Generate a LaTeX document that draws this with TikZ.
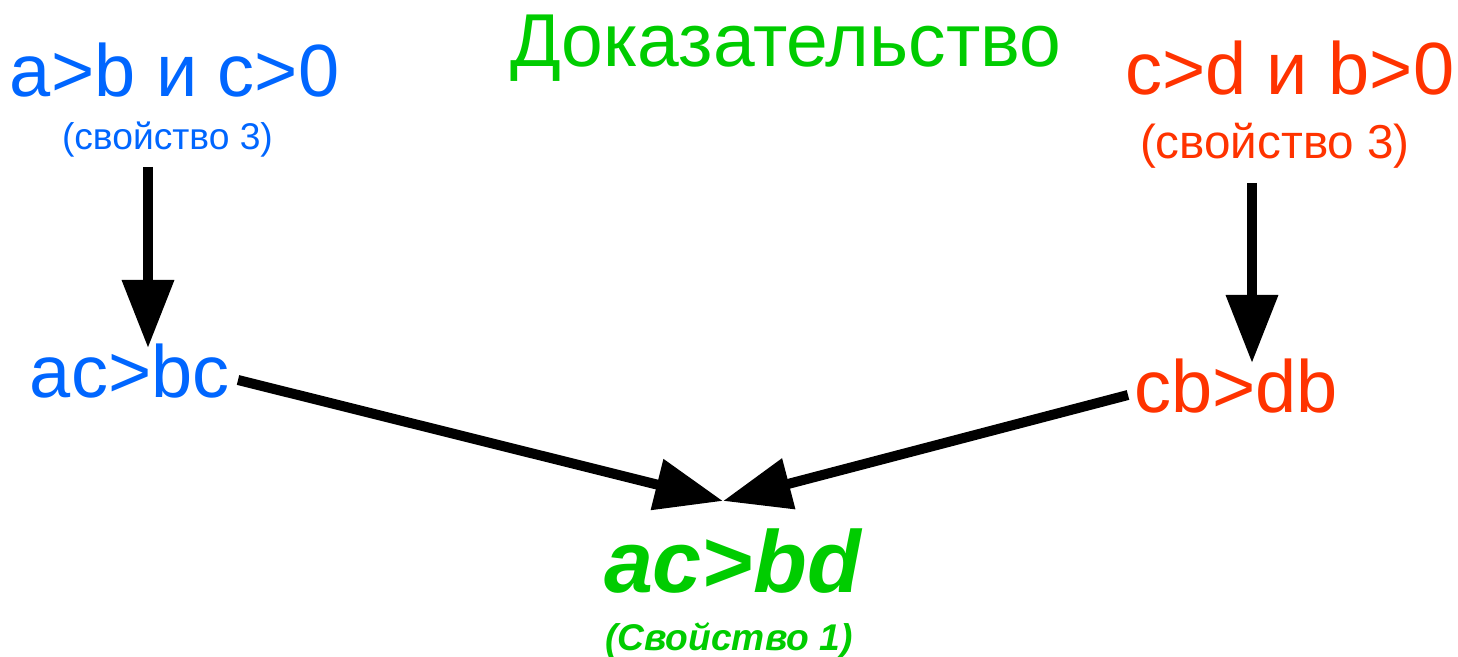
\documentclass[tikz,border=0pt]{standalone}
\usepackage{fontspec}
\setmainfont{Liberation Sans}
\usetikzlibrary{arrows.meta,calc}
\definecolor{cblue}{HTML}{0066FF}
\definecolor{cred}{HTML}{FF3300}
\definecolor{cgreen}{HTML}{00CC00}
\tikzset{
  txt/.style={inner sep=0pt, outer sep=0pt, anchor=base west},
  big/.style={txt, font=\fontsize{37}{40}\selectfont},
  arr/.style={line width=5pt, -{Triangle[length=34pt,width=25pt]}},
}
\begin{document}
\begin{tikzpicture}[x=0.5pt,y=-0.5pt]
\useasboundingbox (0,0) rectangle (1458,657);
\node[txt, text=cgreen, font=\fontsize{37.5}{40}\selectfont] (title) at (510,67) {Доказательство};
\node[big, text=cblue] (tl) at (10,97) {a>b и c>0};
\node[txt, text=cblue, font=\fontsize{18.6}{20}\selectfont] (lp) at (62,150) {(свойство 3)};
\node[big, text=cred] (tr) at (1125,95) {c>d и b>0};
\node[txt, text=cred, font=\fontsize{23.8}{25}\selectfont] (rp) at (1140,159) {(свойство 3)};
\node[big, text=cblue] (acbc) at (30,398) {ac>bc};
\node[big, text=cred] (cbdb) at (1134,413) {cb>db};
\node[txt, text=cgreen, font=\fontsize{44}{48}\selectfont\bfseries\itshape] (acbd) at (604,593) {ac>bd};
\node[txt, text=cgreen, font=\fontsize{18.6}{20}\selectfont\bfseries\itshape] (prop1) at (605,651) {(Свойство 1)};
\draw[arr] ($(lp.base west)+(86,17)$) -- ($(acbc.base west)+(118,-50)$);
\draw[arr] ($(rp.base west)+(112,24)$) -- ($(cbdb.base west)+(118,-50)$);
\draw[arr] ($(acbc.base west)+(208,-18)$) -- ($(acbd.base west)+(119,-92)$);
\draw[arr] ($(cbdb.base west)+(-6,-18)$) -- ($(acbd.base west)+(119,-92)$);
\end{tikzpicture}
\end{document}
